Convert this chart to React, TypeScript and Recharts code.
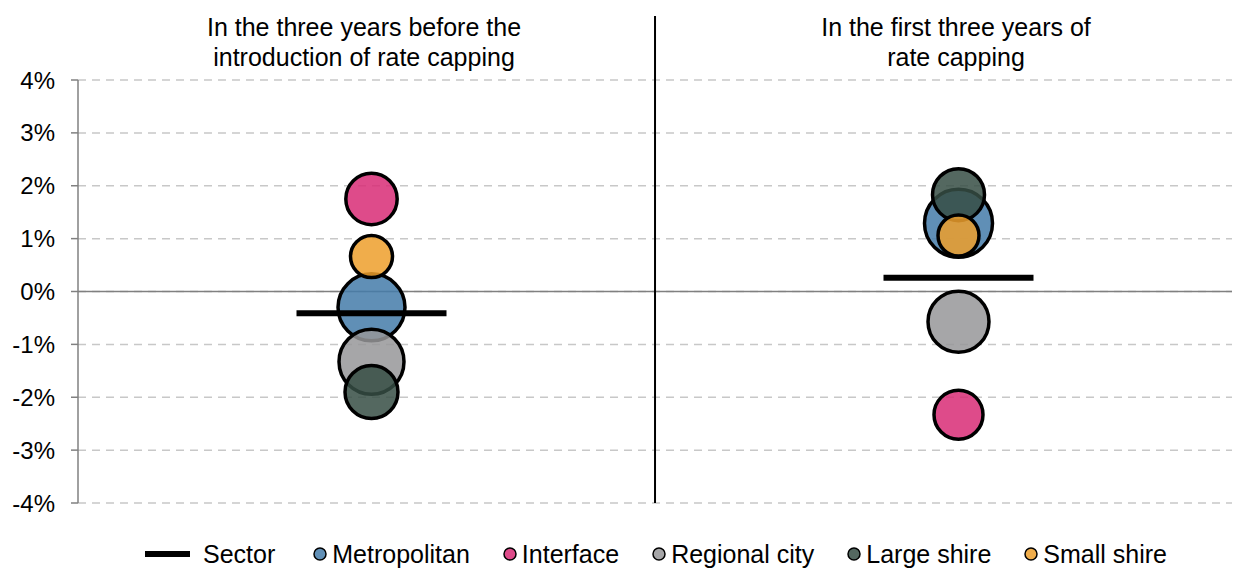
import {
  CartesianGrid,
  ReferenceLine,
  Scatter,
  ScatterChart,
  XAxis,
  YAxis,
  ZAxis,
} from 'recharts'

// two periods, placed at x = 1 and x = 3
const periodTitles = [
  ['In the three years before the', 'introduction of rate capping'],
  ['In the first three years of', 'rate capping'],
]
const periodX = [1, 3]
const dividerX = 1.966

// average annual rate growth (%) per council group, [before, after]
const metroGrowth = [-0.3, 1.29]
const interfaceGrowth = [1.75, -2.33]
const regionalGrowth = [-1.33, -0.57]
const largeShireGrowth = [-1.9, 1.83]
const smallShireGrowth = [0.66, 1.06]
const sectorGrowth = [-0.41, 0.26]

// relative bubble weights
const metroWeight = [1122, 1156]
const interfaceWeight = [660, 600]
const regionalWeight = [1056, 930]
const largeShireWeight = [702, 676]
const smallShireWeight = [441, 420]

const yTicks = [-4, -3, -2, -1, 0, 1, 2, 3, 4]

const groups = [
  { name: 'Metropolitan', values: metroGrowth, weights: metroWeight, color: '#447BA9' },
  { name: 'Interface', values: interfaceGrowth, weights: interfaceWeight, color: '#D82C75' },
  { name: 'Regional city', values: regionalGrowth, weights: regionalWeight, color: '#969699' },
  { name: 'Large shire', values: largeShireGrowth, weights: largeShireWeight, color: '#364D44' },
  { name: 'Small shire', values: smallShireGrowth, weights: smallShireWeight, color: '#ED9F2B' },
]

const FONT = '"Liberation Sans", Arial, sans-serif'
const FILL_OPACITY = 0.85

const SectorMark = (props: any) => {
  const { cx, cy } = props
  if (cx == null || cy == null) return null
  return <line x1={cx - 75} x2={cx + 75} y1={cy} y2={cy} stroke="#000" strokeWidth={6} />
}

const Divider = (props: any) => {
  const top = Math.min(props.y1, props.y2)
  const bottom = Math.max(props.y1, props.y2)
  return <line x1={props.x1} x2={props.x2} y1={top - 64} y2={bottom} stroke="#000" strokeWidth={2} />
}

function LegendRow() {
  return (
    <div
      style={{
        position: 'absolute',
        top: 540,
        left: 145,
        display: 'flex',
        alignItems: 'center',
        fontSize: 25,
        lineHeight: '28px',
        color: '#000',
        whiteSpace: 'nowrap',
      }}
    >
      <svg width={45} height={28}>
        <line x1={0} x2={45} y1={14} y2={14} stroke="#000" strokeWidth={6} />
      </svg>
      <span style={{ marginLeft: 13 }}>Sector</span>
      {groups.map((g, i) => (
        <span key={g.name} style={{ display: 'flex', alignItems: 'center', marginLeft: i === 0 ? 38 : 33 }}>
          <svg width={14} height={28}>
            <circle cx={7} cy={14} r={6} fill={g.color} fillOpacity={FILL_OPACITY} stroke="#000" strokeWidth={1.5} />
          </svg>
          <span style={{ marginLeft: 5 }}>{g.name}</span>
        </span>
      ))}
    </div>
  )
}

export default function App() {
  const sectorData = periodX.map((x, i) => ({ x, y: sectorGrowth[i] }))
  const titleCenters = [364, 956]

  return (
    <div
      style={{
        position: 'relative',
        width: 1240,
        height: 568,
        margin: '-8px 0 0 -8px',
        overflow: 'hidden',
        fontFamily: FONT,
        background: '#fff',
      }}
    >
      {periodTitles.map((lines, i) => (
        <div
          key={i}
          style={{
            position: 'absolute',
            top: 12,
            left: titleCenters[i] - 250,
            width: 500,
            textAlign: 'center',
            fontSize: 25,
            lineHeight: '30px',
            color: '#000',
          }}
        >
          {lines.map((l) => (
            <div key={l}>{l}</div>
          ))}
        </div>
      ))}
      <ScatterChart width={1262} height={568} margin={{ top: 80, right: 10, bottom: 65, left: 0 }}>
        <CartesianGrid vertical={false} strokeDasharray="8 6" stroke="#C8C8C8" strokeWidth={1.5} />
        <XAxis type="number" dataKey="x" domain={[0, 4]} hide />
        <YAxis
          type="number"
          dataKey="y"
          domain={[-4, 4]}
          ticks={yTicks}
          width={78}
          tickFormatter={(v: number) => `${v}%`}
          tick={{ fontSize: 24, fill: '#000', fontFamily: FONT }}
          axisLine={{ stroke: '#808080', strokeWidth: 1.5 }}
          tickLine={{ stroke: '#808080', strokeWidth: 1.5 }}
          tickSize={7}
          tickMargin={16}
        />
        <ZAxis type="number" dataKey="z" domain={[0, 1200]} range={[0, 1200 * Math.PI]} />
        <ReferenceLine y={0} stroke="#808080" strokeWidth={1.5} />
        <ReferenceLine x={dividerX} shape={Divider} />
        {groups.map((g) => (
          <Scatter
            key={g.name}
            name={g.name}
            data={periodX.map((x, i) => ({ x, y: g.values[i], z: g.weights[i] }))}
            fill={g.color}
            fillOpacity={FILL_OPACITY}
            stroke="#000"
            strokeWidth={3.5}
            isAnimationActive={false}
          />
        ))}
        <Scatter name="Sector" data={sectorData} shape={SectorMark} isAnimationActive={false} />
      </ScatterChart>
      <LegendRow />
    </div>
  )
}
